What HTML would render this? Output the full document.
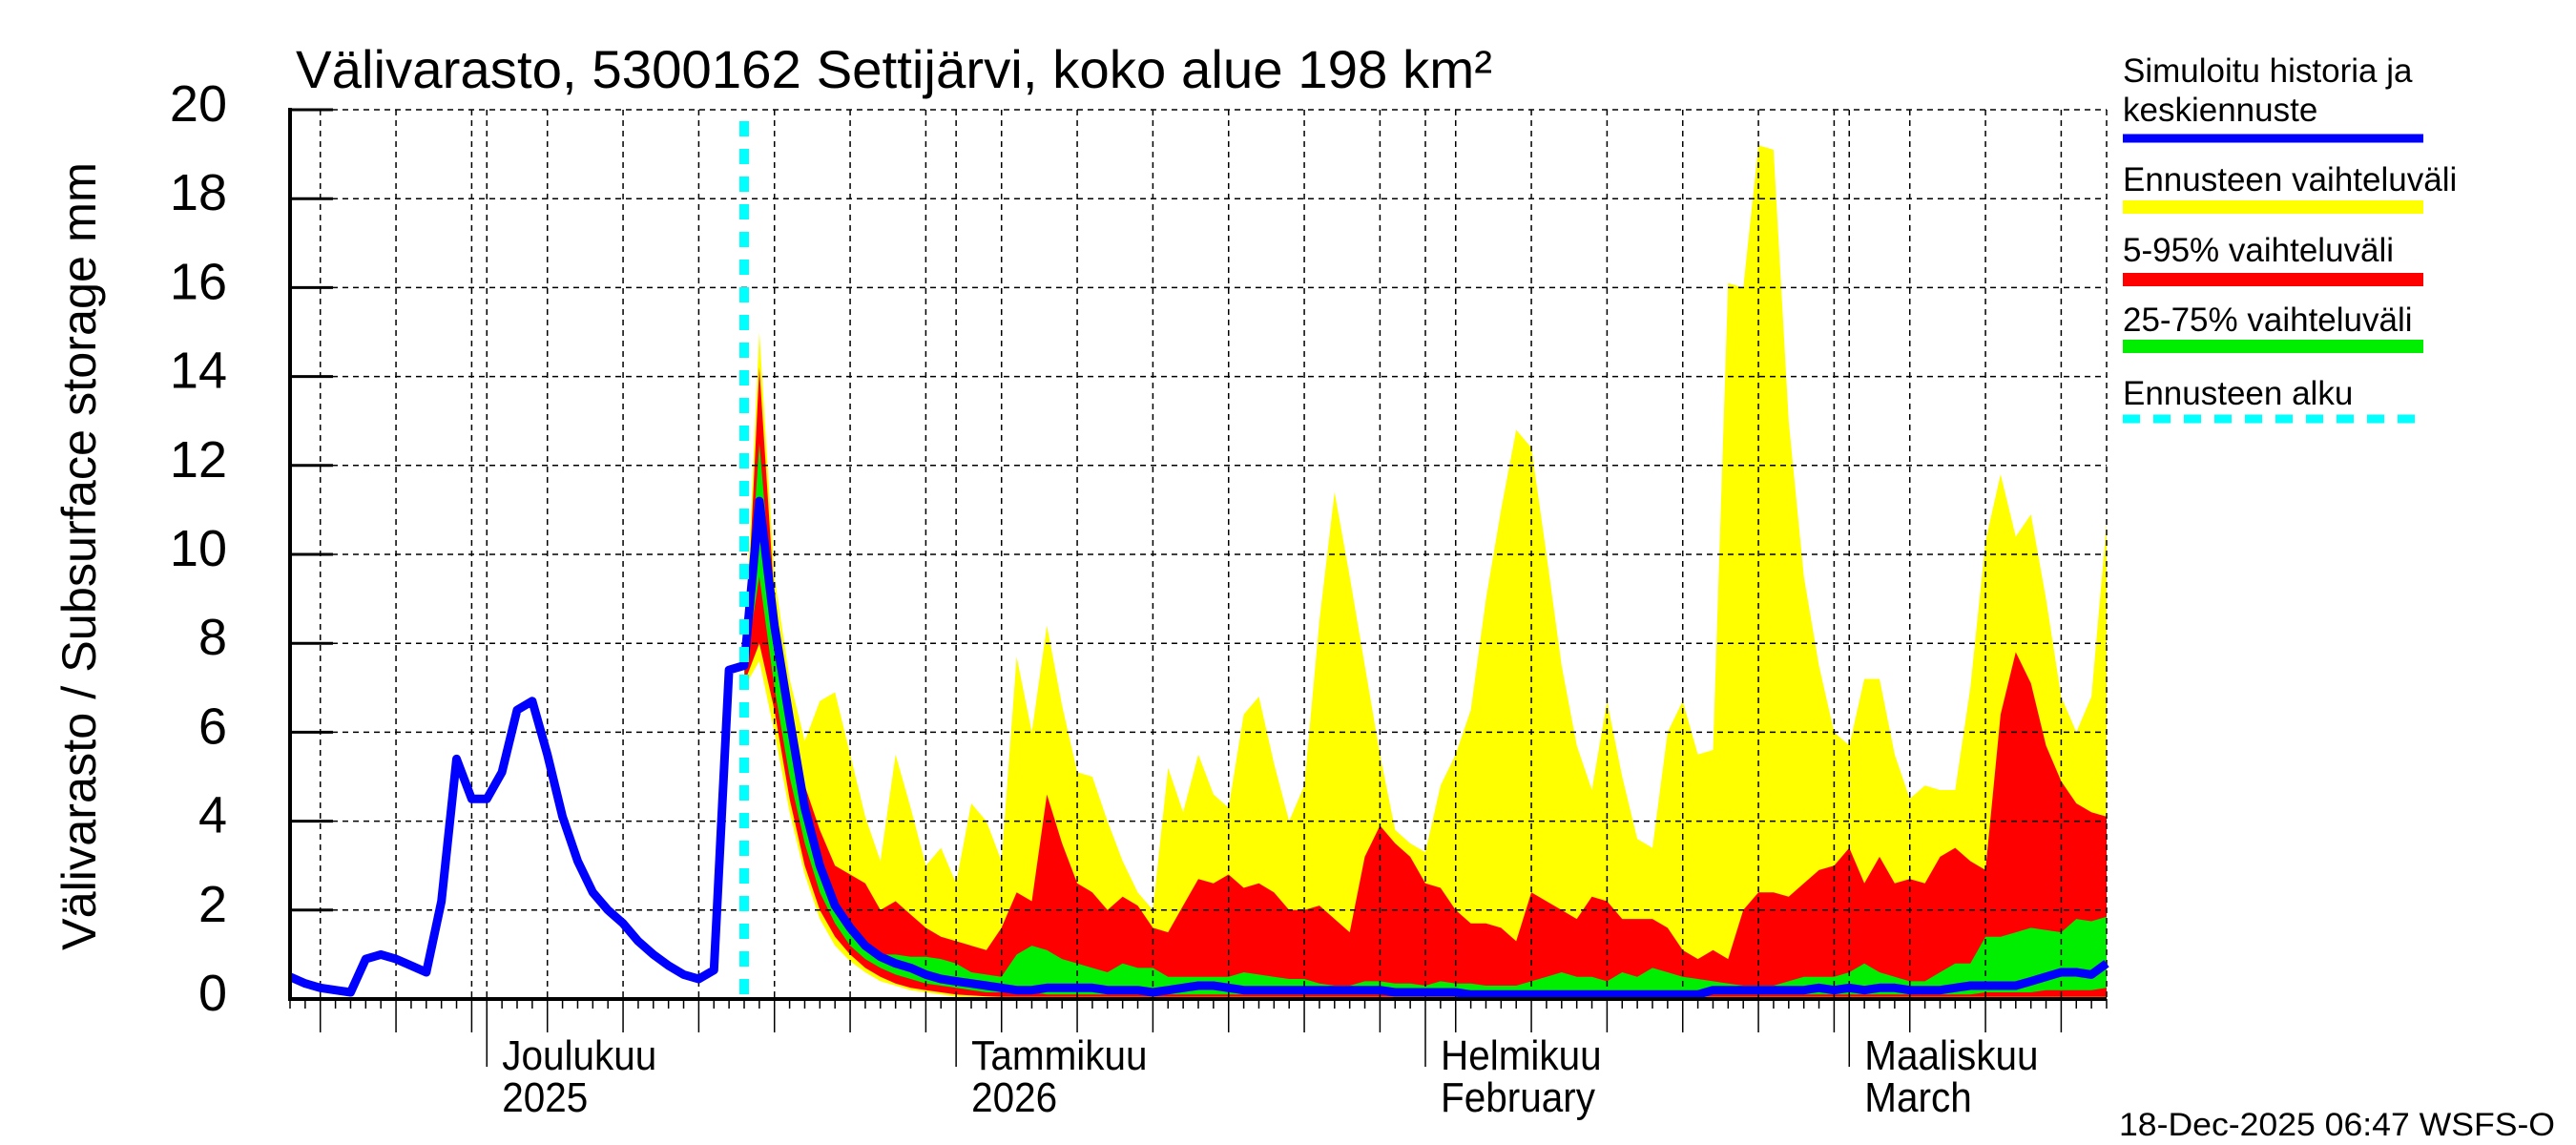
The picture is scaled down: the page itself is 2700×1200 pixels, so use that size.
<!DOCTYPE html>
<html><head><meta charset="utf-8"><style>
html,body{margin:0;padding:0;background:#fff;}
svg{display:block;font-family:"Liberation Sans",sans-serif;}
</style></head><body>
<svg id="chart" width="2700" height="1200" viewBox="0 0 2700 1200" xmlns="http://www.w3.org/2000/svg">
<rect x="0" y="0" width="2700" height="1200" fill="#fff"/>
<g id="areas"></g>
<g id="grid"></g>
<g id="lines"></g>
<g id="axes"></g>
<text x="310" y="92" font-size="56" textLength="1254" lengthAdjust="spacingAndGlyphs">Välivarasto, 5300162 Settijärvi, koko alue 198 km²</text>
<text transform="translate(100,583) rotate(-90)" text-anchor="middle" font-size="50" textLength="826" lengthAdjust="spacingAndGlyphs">Välivarasto / Subsurface storage  mm</text>
<g font-size="35">
<text x="2225" y="86">Simuloitu historia ja</text>
<text x="2225" y="127">keskiennuste</text>
<line x1="2225" y1="145" x2="2540" y2="145" stroke="#0000ff" stroke-width="9"/>
<text x="2225" y="200">Ennusteen vaihteluväli</text>
<line x1="2225" y1="217" x2="2540" y2="217" stroke="#ffff00" stroke-width="14"/>
<text x="2225" y="274">5-95% vaihteluväli</text>
<line x1="2225" y1="293" x2="2540" y2="293" stroke="#ff0000" stroke-width="14"/>
<text x="2225" y="347">25-75% vaihteluväli</text>
<line x1="2225" y1="363" x2="2540" y2="363" stroke="#00ee00" stroke-width="14"/>
<text x="2225" y="424">Ennusteen alku</text>
<line x1="2225" y1="439" x2="2540" y2="439" stroke="#00ffff" stroke-width="9" stroke-dasharray="18,14"/>
</g>
<text x="2678" y="1190" text-anchor="end" font-size="34" textLength="457" lengthAdjust="spacingAndGlyphs">18-Dec-2025 06:47 WSFS-O</text>
</svg>
<script>
const historyVals=[0.5,0.35,0.25,0.2,0.15,0.9,1.0,0.9,0.75,0.6,2.2,5.4,4.5,4.5,5.1,6.5,6.7,5.5,4.1,3.1,2.4,2.0,1.7,1.3,1.0,0.75,0.55,0.45,0.65,7.4,7.5];
const forecastStartDay=30;
const rangeMax=[7.6,15,9.5,7.2,5.8,6.7,6.9,5.5,4.1,3.1,5.5,4.3,3.0,3.4,2.6,4.4,4.0,3.1,7.7,6.0,8.4,6.6,5.1,5.0,4.0,3.1,2.4,2.0,5.2,4.2,5.5,4.6,4.3,6.4,6.8,5.3,4.0,4.8,
8.5,11.4,9.5,7.5,5.5,3.8,3.5,3.3,4.8,5.5,6.5,9,11,12.8,12.4,10,7.5,5.7,4.7,6.7,5,3.6,3.4,6,6.7,5.5,5.6,16.1,16,19.2,19.1,13,9.5,7.5,6,5.7,7.2,7.2,5.5,4.5,4.8,4.7,4.7,7,10.3,11.8,10.4,10.9,9,6.8,6,6.8,10.7];
const p95=[7.2,14.2,9,6.5,4.8,3.8,3.0,2.8,2.6,2.0,2.2,1.9,1.6,1.4,1.3,1.2,1.1,1.6,2.4,2.2,4.6,3.5,2.6,2.4,2.0,2.3,2.1,1.6,1.5,2.1,2.7,2.6,2.8,2.5,2.6,2.4,2.0,2.0,2.1,1.8,1.5,3.2,3.9,3.5,3.2,2.6,2.5,2.0,1.7,1.7,1.6,1.3,2.4,2.2,2.0,1.8,2.3,2.2,1.8,1.8,1.8,1.6,1.1,0.9,1.1,0.9,2.0,2.4,2.4,2.3,2.6,2.9,3.0,3.4,2.6,3.2,2.6,2.7,2.6,3.2,3.4,3.1,2.9,6.4,7.8,7.1,5.7,4.9,4.4,4.2,4.1];
const p75=[7.5,12.5,8.5,6,4,2.8,2.0,1.5,1.1,1.0,1.0,0.95,0.95,0.9,0.8,0.6,0.55,0.5,1.0,1.2,1.1,0.9,0.8,0.7,0.6,0.8,0.7,0.7,0.5,0.5,0.5,0.5,0.5,0.6,0.55,0.5,0.45,0.45,0.35,0.3,0.3,0.4,0.4,0.35,0.35,0.3,0.4,0.35,0.35,0.3,0.3,0.3,0.4,0.5,0.6,0.5,0.5,0.4,0.6,0.5,0.7,0.6,0.5,0.45,0.4,0.35,0.3,0.3,0.3,0.4,0.5,0.5,0.5,0.6,0.8,0.6,0.5,0.4,0.4,0.6,0.8,0.8,1.4,1.4,1.5,1.6,1.55,1.5,1.8,1.75,1.85];
const median=[7.5,11.2,8.4,6.3,4.3,3.0,2.1,1.6,1.2,0.95,0.8,0.7,0.55,0.45,0.4,0.35,0.3,0.25,0.2,0.2,0.25,0.25,0.25,0.25,0.2,0.2,0.2,0.15,0.2,0.25,0.3,0.3,0.25,0.2,0.2,0.2,0.2,0.2,0.2,0.2,0.2,0.2,0.2,0.15,0.15,0.15,0.15,0.15,0.1,0.1,0.1,0.1,0.1,0.1,0.1,0.1,0.1,0.1,0.1,0.1,0.1,0.1,0.1,0.1,0.2,0.2,0.2,0.2,0.2,0.2,0.2,0.25,0.2,0.25,0.2,0.25,0.25,0.2,0.2,0.2,0.25,0.3,0.3,0.3,0.3,0.4,0.5,0.6,0.6,0.55,0.8];
const p25=[7.3,9.5,7.0,5.0,3.5,2.4,1.7,1.2,0.9,0.7,
0.55,0.45,0.35,0.3,0.25,0.2,0.15,0.15,0.15,0.15,
0.1,0.1,0.1,0.1,0.1,0.1,0.1,0.1,0.1,0.1,
0.1,0.1,0.1,0.1,0.1,0.1,0.1,0.1,0.1,0.1,
0.1,0.1,0.1,0.1,0.1,0.1,0.1,0.1,0.1,0.1,
0.1,0.1,0.1,0.1,0.1,0.1,0.1,0.1,0.1,0.1,
0.1,0.1,0.1,0.1,0.1,0.1,0.1,0.1,0.1,0.1,
0.1,0.1,0.1,0.1,0.1,0.1,0.1,0.1,0.1,0.1,
0.1,0.1,0.15,0.15,0.15,0.15,0.2,0.2,0.2,0.2,
0.25];
const p5=[7.1,8.0,6.5,4.5,3.0,2.0,1.4,1.0,0.7,0.5,
0.35,0.25,0.2,0.15,0.1,0.08,0.06,0.05,0.05,0.05,
0.05,0.05,0.05,0.05,0.05,0.05,0.05,0.05,0.05,0.05,
0.05,0.05,0.05,0.05,0.05,0.05,0.05,0.05,0.05,0.05,
0.05,0.05,0.05,0.05,0.05,0.05,0.05,0.05,0.05,0.05,
0.05,0.05,0.05,0.05,0.05,0.05,0.05,0.05,0.05,0.05,
0.05,0.05,0.05,0.05,0.05,0.05,0.05,0.05,0.05,0.05,
0.05,0.05,0.05,0.05,0.05,0.05,0.05,0.05,0.05,0.05,
0.05,0.05,0.05,0.05,0.05,0.05,0.05,0.05,0.05,0.05,
0.05];
const rangeMin=[7.0,7.6,6.0,4.2,2.8,1.8,1.2,0.85,0.6,0.4,
0.3,0.2,0.15,0.1,0.05,0.03,0.02,0.02,0.02,0.02,
0.02,0.02,0.02,0.02,0.02,0.02,0.02,0.02,0.02,0.02,
0.02,0.02,0.02,0.02,0.02,0.02,0.02,0.02,0.02,0.02,
0.02,0.02,0.02,0.02,0.02,0.02,0.02,0.02,0.02,0.02,
0.02,0.02,0.02,0.02,0.02,0.02,0.02,0.02,0.02,0.02,
0.02,0.02,0.02,0.02,0.02,0.02,0.02,0.02,0.02,0.02,
0.02,0.02,0.02,0.02,0.02,0.02,0.02,0.02,0.02,0.02,
0.02,0.02,0.02,0.02,0.02,0.02,0.02,0.02,0.02,0.02,
0.02];
const yTicks=[0,2,4,6,8,10,12,14,16,18,20];
const monthDays=[13,44,75,103];
const monthLine1=["Joulukuu","Tammikuu","Helmikuu","Maaliskuu"];
const monthLine2=["2025","2026","February","March"];
const totalDays=120;

const NS="http://www.w3.org/2000/svg";
const X0=304,X1=2208,Y0=1047,Y1=115,YMAX=20;
function xs(d){return X0+d*(X1-X0)/totalDays;}
function ys(v){return Y0-v*(Y0-Y1)/YMAX;}
function mk(tag,attrs,parent){const e=document.createElementNS(NS,tag);for(const k in attrs)e.setAttribute(k,attrs[k]);parent.appendChild(e);return e;}
const areas=document.getElementById('areas'),grid=document.getElementById('grid'),lines=document.getElementById('lines'),axes=document.getElementById('axes');

function band(top,bot,color,name){
  const n=Math.min(top.length,bot.length);
  let pts=[];
  for(let i=0;i<n;i++)pts.push(xs(forecastStartDay+i).toFixed(1)+','+ys(top[i]).toFixed(1));
  for(let i=n-1;i>=0;i--)pts.push(xs(forecastStartDay+i).toFixed(1)+','+ys(bot[i]).toFixed(1));
  const p=mk('polygon',{points:pts.join(' '),fill:color},areas);
  
  
}
band(rangeMax,rangeMin,'#ffff00','forecast-range-band');
band(p95,p5,'#ff0000','band-5-95');
band(p75,p25,'#00ee00','band-25-75');

for(const v of yTicks){if(v===0)continue;
  const l=mk('line',{x1:X0,x2:X1,y1:ys(v),y2:ys(v),stroke:'#000','stroke-width':1.5,'stroke-dasharray':'6,5'},grid);
  
  
}
const vg=new Set();
for(let d=2;d<=totalDays;d+=5)vg.add(d);
for(const m of monthDays)vg.add(m);
vg.add(totalDays);
for(const d of vg){
  const l=mk('line',{x1:xs(d),x2:xs(d),y1:Y1,y2:Y0,stroke:'#000','stroke-width':1.5,'stroke-dasharray':'6,5'},grid);
  
  
}

const blueVals=historyVals.concat(median.slice(1));
let bp=blueVals.map((v,i)=>xs(i).toFixed(1)+','+ys(v).toFixed(1)).join(' ');
const bl=mk('polyline',{points:bp,fill:'none',stroke:'#0000ff','stroke-width':9,'stroke-linejoin':'round'},lines);


const cy=mk('line',{x1:xs(forecastStartDay),x2:xs(forecastStartDay),y1:127,y2:Y0,stroke:'#00ffff','stroke-width':10,'stroke-dasharray':'16,13'},lines);



const ya=mk('line',{x1:X0,x2:X0,y1:Y1-2,y2:Y0+2,stroke:'#000','stroke-width':4},axes);


const xa=mk('line',{x1:X0-2,x2:X1,y1:Y0,y2:Y0,stroke:'#000','stroke-width':4},axes);


for(const v of yTicks){
  const t=mk('line',{x1:X0,x2:X0+45,y1:ys(v),y2:ys(v),stroke:'#000','stroke-width':3},axes);
  
  
  const tx=mk('text',{x:238,y:ys(v)+12,'text-anchor':'end','font-size':54},axes);
  
  
  tx.textContent=String(v);
}
for(let d=0;d<=totalDays;d++){
  let len=10;
  if((d-2)%5===0)len=35;
  if(monthDays.includes(d))len=71;
  const t=mk('line',{x1:xs(d),x2:xs(d),y1:Y0,y2:Y0+len,stroke:'#000','stroke-width':1.5},axes);
  
  
}
monthDays.forEach((d,i)=>{
  const x=xs(d)+16;
  const t1=mk('text',{x:0,y:0,'font-size':44,transform:'translate('+x+',1121) scale(0.92,1)'},axes);
  
  
  t1.textContent=monthLine1[i];
  const t2=mk('text',{x:0,y:0,'font-size':44,transform:'translate('+x+',1165) scale(0.92,1)'},axes);
  
  
  t2.textContent=monthLine2[i];
});
</script>
</body></html>
